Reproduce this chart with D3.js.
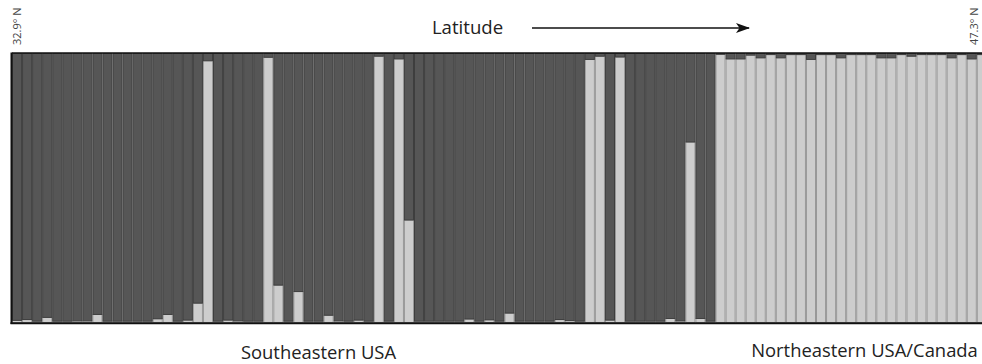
<!DOCTYPE html>
<html>
<head>
<meta charset="utf-8">
<script src="https://cdn.jsdelivr.net/npm/d3@7"></script>
<style>
  html, body { margin: 0; padding: 0; background: #fff; }
  svg { display: block; }
  text { font-family: "Open Sans", "Noto Sans", sans-serif; }
</style>
</head>
<body>
<div id="chart"></div>
<script>
// individuals ordered by latitude, K = 2 membership (light / dark cluster)
const individuals = d3.range(1, 98).map(i => 'ind' + i);

const lightCluster = [
  0.008, 0.011, 0.005, 0.019, 0.005, 0.005, 0.006, 0.006, 0.030, 0.005,
  0.005, 0.005, 0.005, 0.005, 0.014, 0.030, 0.005, 0.009, 0.072, 0.973,
  0.005, 0.009, 0.006, 0.005, 0.005, 0.986, 0.139, 0.005, 0.115, 0.005,
  0.005, 0.027, 0.006, 0.005, 0.009, 0.005, 0.990, 0.005, 0.980, 0.381,
  0.005, 0.005, 0.005, 0.005, 0.005, 0.013, 0.005, 0.010, 0.005, 0.035,
  0.005, 0.005, 0.005, 0.005, 0.011, 0.007, 0.005, 0.978, 0.990, 0.009,
  0.987, 0.005, 0.005, 0.005, 0.005, 0.015, 0.006, 0.671, 0.015, 0.005,
  0.997, 0.980, 0.980, 0.994, 0.984, 0.996, 0.984, 0.996, 0.996, 0.978,
  0.996, 0.996, 0.984, 0.996, 0.996, 0.996, 0.984, 0.984, 0.996, 0.990,
  0.996, 0.996, 0.996, 0.984, 0.996, 0.980, 0.996
];

const darkCluster = [
  0.992, 0.989, 0.995, 0.981, 0.995, 0.995, 0.994, 0.994, 0.970, 0.995,
  0.995, 0.995, 0.995, 0.995, 0.986, 0.970, 0.995, 0.991, 0.928, 0.027,
  0.995, 0.991, 0.994, 0.995, 0.995, 0.014, 0.861, 0.995, 0.885, 0.995,
  0.995, 0.973, 0.994, 0.995, 0.991, 0.995, 0.010, 0.995, 0.020, 0.619,
  0.995, 0.995, 0.995, 0.995, 0.995, 0.987, 0.995, 0.990, 0.995, 0.965,
  0.995, 0.995, 0.995, 0.995, 0.989, 0.993, 0.995, 0.022, 0.010, 0.991,
  0.013, 0.995, 0.995, 0.995, 0.995, 0.985, 0.994, 0.329, 0.985, 0.995,
  0.003, 0.020, 0.020, 0.006, 0.016, 0.004, 0.016, 0.004, 0.004, 0.022,
  0.004, 0.004, 0.016, 0.004, 0.004, 0.004, 0.016, 0.016, 0.004, 0.010,
  0.004, 0.004, 0.004, 0.016, 0.004, 0.020, 0.004
];

const clusters = ['light', 'dark'];
const latitudeEnds = ['32.9° N', '47.3° N'];
const regionLabels = ['Southeastern USA', 'Northeastern USA/Canada'];

const width = 982, height = 364;
const plot = { left: 12, top: 53.5, bottom: 322.5, barW: 10.05 };

const svg = d3.select('#chart').append('svg')
  .attr('width', width)
  .attr('height', height);

const x = d3.scaleBand()
  .domain(individuals)
  .range([plot.left, plot.left + individuals.length * plot.barW])
  .padding(0);

const y = d3.scaleLinear()
  .domain([0, 1])
  .range([plot.bottom, plot.top]);

const rows = individuals.map((id, i) => ({ id, light: lightCluster[i], dark: darkCluster[i] }));
const stacked = d3.stack().keys(clusters)(rows);

const fill = { light: '#cdcdcd', dark: '#565656' };
const edge = { light: '#989898', dark: '#3e3e3e' };

svg.append('g')
  .selectAll('g')
  .data(stacked)
  .join('g')
  .attr('fill', d => fill[d.key])
  .attr('stroke', d => edge[d.key])
  .attr('stroke-width', 1)
  .selectAll('rect')
  .data(d => d)
  .join('rect')
  .attr('x', d => x(d.data.id) + 0.5)
  .attr('width', x.bandwidth() - 1)
  .attr('y', d => y(d[1]))
  .attr('height', d => y(d[0]) - y(d[1]));

// frame
svg.append('line')
  .attr('x1', plot.left).attr('x2', width)
  .attr('y1', plot.top - 0.5).attr('y2', plot.top - 0.5)
  .attr('stroke', '#111').attr('stroke-width', 1.5);
svg.append('line')
  .attr('x1', plot.left - 0.5).attr('x2', plot.left - 0.5)
  .attr('y1', plot.top - 1).attr('y2', plot.bottom + 1.5)
  .attr('stroke', '#111').attr('stroke-width', 2);
svg.append('line')
  .attr('x1', plot.left - 1.5).attr('x2', width)
  .attr('y1', plot.bottom + 0.8).attr('y2', plot.bottom + 0.8)
  .attr('stroke', '#111').attr('stroke-width', 2);

// latitude end labels
svg.append('text')
  .attr('transform', `translate(21,45) rotate(-90)`)
  .attr('font-size', 11)
  .attr('fill', '#444')
  .text(latitudeEnds[0]);
svg.append('text')
  .attr('transform', `translate(978,45) rotate(-90)`)
  .attr('font-size', 11)
  .attr('fill', '#444')
  .text(latitudeEnds[1]);

// latitude title + arrow
svg.append('defs').append('marker')
  .attr('id', 'arrow')
  .attr('viewBox', '0 0 14 10')
  .attr('refX', 13).attr('refY', 5)
  .attr('markerUnits', 'userSpaceOnUse')
  .attr('markerWidth', 14).attr('markerHeight', 10)
  .attr('orient', 'auto')
  .append('path')
  .attr('d', 'M0,0 L14,5 L0,10 L3.5,5 Z')
  .attr('fill', '#111');

svg.append('text')
  .attr('x', 467.5).attr('y', 34)
  .attr('text-anchor', 'middle')
  .attr('font-size', 18.6)
  .attr('fill', '#222')
  .text('Latitude');

svg.append('line')
  .attr('x1', 532).attr('x2', 749)
  .attr('y1', 28).attr('y2', 28)
  .attr('stroke', '#111').attr('stroke-width', 1.3)
  .attr('marker-end', 'url(#arrow)');

// region labels
svg.append('text')
  .attr('x', 318.5).attr('y', 359)
  .attr('text-anchor', 'middle')
  .attr('font-size', 18.4)
  .attr('fill', '#222')
  .text(regionLabels[0]);
svg.append('text')
  .attr('x', 864.5).attr('y', 357)
  .attr('text-anchor', 'middle')
  .attr('font-size', 18.4)
  .attr('fill', '#222')
  .text(regionLabels[1]);
</script>
</body>
</html>
